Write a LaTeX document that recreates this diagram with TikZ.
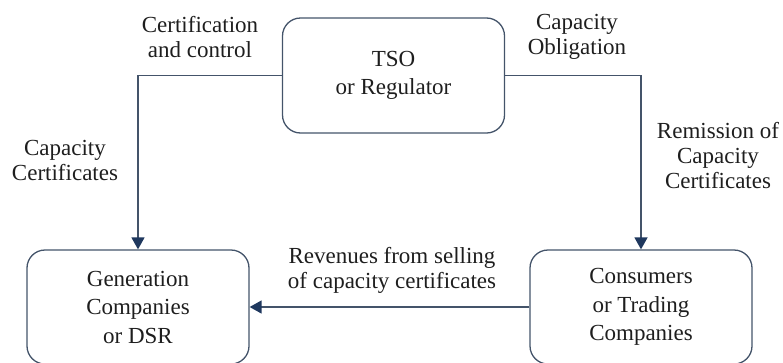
\documentclass[tikz,border=0pt]{standalone}
\usepackage{fontspec}
\setmainfont{Liberation Serif}
\usetikzlibrary{arrows.meta}
\definecolor{boxline}{RGB}{68,84,106}
\definecolor{tipcol}{RGB}{31,56,94}
\definecolor{txtcol}{RGB}{30,30,30}
\begin{document}
\begin{tikzpicture}[x=1pt, y=-1pt,
    box/.style={draw=boxline, line width=1.3pt, rounded corners=18pt, minimum width=222pt, align=center, text=txtcol, font=\fontsize{23}{28.5}\selectfont},
    lbl/.style={align=center, text=txtcol, inner sep=0pt, font=\fontsize{23}{25}\selectfont},
    flow/.style={draw=boxline, line width=1.6pt, -{Triangle[width=13pt,length=12pt,fill=tipcol,color=tipcol]}}]
    \useasboundingbox (0,0) rectangle (783,362);
    % Boxes
    \node[box, minimum height=115pt] (tso) at (393.5,75.5) {TSO\\or Regulator};
    \node[box, minimum height=114pt] (gen) at (138,307) {Generation\\Companies\\or DSR};
    \node[box, minimum height=114pt] (cons) at (641,307) {Consumers\\or Trading\\Companies};

    % Flows
    \draw[flow] (tso.west) -| (gen.north);
    \draw[flow] (tso.east) -| (cons.north);
    \draw[flow] (cons.west) -- (gen.east);

    % Labels
    \node[lbl] (certlbl) at (200,37) {Certification\\and control};
    \node[lbl] (obliglbl) at (577,37) {Capacity\\Obligation};
    \node[lbl] (capcertlbl) at (65,160) {Capacity\\Certificates};
    \node[lbl] (remislbl) at (718,156) {Remission of\\Capacity\\Certificates};
    \node[lbl] (revlbl) at (392,270) {Revenues from selling\\of capacity certificates};
\end{tikzpicture}
\end{document}
